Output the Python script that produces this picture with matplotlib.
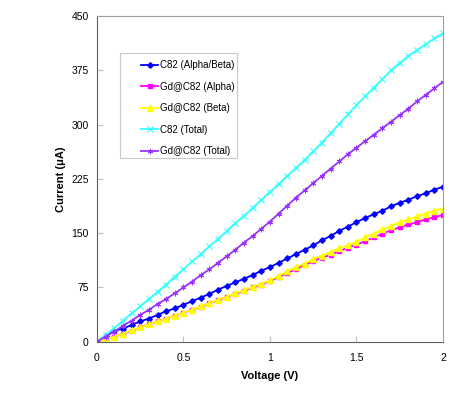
import numpy as np
import matplotlib
matplotlib.use('Agg')
import matplotlib.pyplot as plt
from matplotlib.patches import Rectangle

plt.rcParams['font.family'] = ['Liberation Sans', 'DejaVu Sans']

# voltage steps (V)
voltage = [0.00, 0.05, 0.10, 0.15, 0.20, 0.25, 0.30, 0.35, 0.40, 0.45,
           0.50, 0.55, 0.60, 0.65, 0.70, 0.75, 0.80, 0.85, 0.90, 0.95,
           1.00, 1.05, 1.10, 1.15, 1.20, 1.25, 1.30, 1.35, 1.40, 1.45,
           1.50, 1.55, 1.60, 1.65, 1.70, 1.75, 1.80, 1.85, 1.90, 1.95, 2.00]

# currents (uA)
c82_ab = [0, 8, 15, 18, 23, 28, 32, 37, 42, 46,
          51, 56, 61, 66, 72, 77, 82, 87, 92, 98,
          103, 109, 115, 121, 127, 133, 140, 146, 153, 159,
          165, 171, 176, 181, 187, 192, 196, 201, 205, 210, 214]
gd_alpha = [0, 3, 7, 11, 15, 20, 24, 28, 32, 36,
            40, 44, 48, 53, 57, 62, 66, 70, 75, 79,
            84, 89, 95, 100, 106, 111, 116, 120, 125, 130,
            134, 139, 144, 149, 154, 158, 162, 165, 169, 172, 175]
gd_beta = [0, 3, 7, 11, 16, 20, 24, 28, 32, 36,
           40, 44, 49, 53, 58, 62, 67, 71, 76, 80,
           85, 91, 97, 103, 108, 114, 119, 124, 129, 133,
           138, 144, 149, 155, 160, 165, 169, 173, 177, 181, 184]
c82_tot = [0, 9, 19, 29, 39, 49, 59, 69, 79, 90,
           100, 111, 121, 132, 142, 153, 164, 174, 185, 196,
           207, 218, 229, 240, 251, 263, 275, 288, 301, 314,
           327, 339, 351, 363, 375, 385, 395, 403, 411, 419, 426]
gd_tot = [0, 7, 14, 22, 29, 37, 44, 52, 59, 67,
          75, 83, 92, 100, 109, 118, 127, 137, 146, 156,
          166, 177, 188, 199, 209, 219, 229, 239, 249, 259,
          268, 277, 286, 295, 304, 313, 322, 332, 341, 350, 359]

fig = plt.figure(figsize=(4.63, 3.95), dpi=100)
ax = fig.add_axes([0.2095, 0.135, 0.7473, 0.8245])

ax.plot(voltage, c82_ab, color='#0000ff', lw=1.3, marker='D', ms=2.8, label='C82 (Alpha/Beta)')
ax.plot(voltage, gd_alpha, color='#ff00ff', lw=1.3, marker='s', ms=3.3, label='Gd@C82 (Alpha)')
ax.plot(voltage, gd_beta, color='#ffff00', lw=1.3, marker='^', ms=4, label='Gd@C82 (Beta)')
ax.plot(voltage, c82_tot, color='#33ffff', lw=1.3, marker='x', ms=4, mew=0.8, label='C82 (Total)')
ax.plot(voltage, gd_tot, color='#9933ff', lw=1.3, marker=(6, 2, 0), ms=4, mew=0.7, label='Gd@C82 (Total)')

ax.set_xlim(0, 2)
ax.set_ylim(0, 450)
ax.set_xticks([0, 0.5, 1, 1.5, 2])
ax.set_xticklabels(['0', '0.5', '1', '1.5', '2'])
ax.set_yticks([0, 75, 150, 225, 300, 375, 450])
ax.tick_params(direction='in', length=4, color='#c0c0c0', labelsize=7.5)
ax.tick_params(axis='y', pad=6)
ax.tick_params(axis='x', pad=8)

for s in ['top', 'right']:
    ax.spines[s].set_color('#a0a0a0')
for s in ['left', 'bottom']:
    ax.spines[s].set_color('#606060')

ax.set_xlabel('Voltage (V)', fontsize=8, fontweight='bold', labelpad=6)
ax.set_ylabel('Current (\u03bcA)', fontsize=8, fontweight='bold', labelpad=4)

# legend box drawn separately (content sits right of centre like the original)
ax.add_patch(Rectangle((0.0665, 0.564), 0.338, 0.322, transform=ax.transAxes,
                       facecolor='white', edgecolor='#c8c8c8', lw=0.8, zorder=4))
leg = ax.legend(loc='upper left', bbox_to_anchor=(0.128, 0.864), fontsize=7,
                frameon=False, handlelength=1.75, labelspacing=1.18, borderpad=0,
                handletextpad=0.15, borderaxespad=0)
leg.set_zorder(5)

fig.savefig('out.png', dpi=100)
